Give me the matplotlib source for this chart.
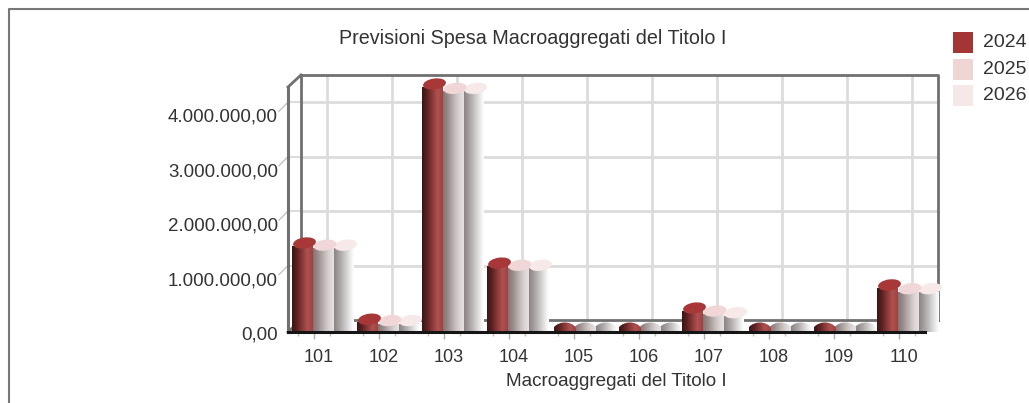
#!/usr/bin/env python3
import numpy as np
import matplotlib
matplotlib.use('Agg')
import matplotlib.pyplot as plt
from matplotlib.colors import LinearSegmentedColormap
from matplotlib.patches import Ellipse, Rectangle
from matplotlib.transforms import IdentityTransform, offset_copy

categories = ['101', '102', '103', '104', '105', '106', '107', '108', '109', '110']
years = ['2024', '2025', '2026']
values_2024 = [1580000, 180000, 4500000, 1210000, 60000, 60000, 385000, 60000, 60000, 810000]
values_2025 = [1540000, 155000, 4420000, 1170000, 40000, 40000, 330000, 40000, 40000, 740000]
values_2026 = [1540000, 155000, 4420000, 1170000, 40000, 40000, 300000, 40000, 40000, 740000]
y_ticks = [0, 1000000, 2000000, 3000000, 4000000]
y_labels = ['0,00', '1.000.000,00', '2.000.000,00', '3.000.000,00', '4.000.000,00']

W, H = 1029, 403
plt.rcParams['font.family'] = ['Liberation Sans', 'DejaVu Sans']

fig = plt.figure(figsize=(W / 100, H / 100), dpi=100)
ax = fig.add_axes([288 / W, 1 - 332 / H, (925 - 288) / W, (332 - 87) / H])
ax.set_xlim(-0.4, 9.4)
ax.set_ylim(0, 4500000)
ax.patch.set_visible(False)
for s in ax.spines.values():
    s.set_visible(False)

back = offset_copy(ax.transData, fig, x=13, y=12, units='dots')
xl, xr = ax.get_xlim()
yb, yt = ax.get_ylim()

# back wall grid
for v in y_ticks[1:]:
    ax.plot([xl, xr], [v, v], color='#dcdcdc', lw=2, transform=back, zorder=1, clip_on=False)
for i in range(len(categories)):
    ax.plot([i, i], [yb, yt], color='#dcdcdc', lw=2, transform=back, zorder=1, clip_on=False)

# frame of the box
frame = '#707070'
ax.plot([xl, xr, xr], [yt, yt, yb], color=frame, lw=2, transform=back, zorder=2, clip_on=False)
ax.plot([xl, xl, xr], [yt, yb, yb], color=frame, lw=2, transform=back, zorder=2, clip_on=False)
ax.plot([xl, xl], [yb, yt], color=frame, lw=2.2, zorder=2, clip_on=False)
for a, b in [(xl, yt), (xr, yb), (xl, yb)]:
    p0 = ax.transData.transform((a, b))
    ax.plot([p0[0], p0[0] + 13], [p0[1], p0[1] + 12], color=frame, lw=2,
            transform=IdentityTransform(), zorder=2, clip_on=False)

# side wall lines and the slanted marks next to the labels
for v in y_ticks[1:]:
    p0 = ax.transData.transform((xl, v))
    ax.plot([p0[0], p0[0] + 13], [p0[1] + 12, p0[1] + 12], color='#dcdcdc', lw=1.5,
            transform=IdentityTransform(), zorder=1, clip_on=False)
    ax.plot([p0[0] - 9, p0[0]], [p0[1] + 3, p0[1] + 12], color='#c4c4c4', lw=1,
            transform=IdentityTransform(), zorder=1, clip_on=False)

ax.plot([xl, xr], [0, 0], color='#151515', lw=2.2, zorder=8, clip_on=False)

# cylinders
cmaps = [
    LinearSegmentedColormap.from_list('c24', ['#3c1414', '#5e2222', '#8c3a3a', '#b05252', '#a04040']),
    LinearSegmentedColormap.from_list('c25', ['#857474', '#9c8e8e', '#bcb1b1', '#d8d0d0', '#e8e2e2']),
    LinearSegmentedColormap.from_list('c26', ['#888080', '#a19b9b', '#c0bcbc', '#e2e0e0', '#ffffff']),
]
cap_colors = ['#a83838', '#f0d6d6', '#f8e9e9']
legend_colors = ['#a33535', '#f0d5d5', '#f7e8e8']
series = [values_2024, values_2025, values_2026]
bar_w = 20.5 / 65
grad = np.linspace(0, 1, 64).reshape(1, -1)
px_y = (yt - yb) / 245

for k in [2, 1, 0]:
    for i, v in enumerate(series[k]):
        left = i + 9 / 65 + (k - 1) * bar_w - bar_w / 2
        c = ax.transData.transform((left + bar_w / 2, v))
        z = 4 + (2 - k) * 0.2
        if v < 100000:
            # flat bars only show as a low mound
            base = ax.transData.transform((left + bar_w / 2, 0))
            mound = Ellipse((base[0] + 2, base[1]), 25, 19, angle=4, transform=IdentityTransform())
            im = ax.imshow(grad, cmap=cmaps[k], extent=[left + 0.02, left + bar_w + 0.04, 0, 11 * px_y],
                           aspect='auto', zorder=z, interpolation='bilinear')
            im.set_clip_path(mound)
            continue
        rect = Rectangle((left, 0), bar_w, v, transform=ax.transData)
        im = ax.imshow(grad, cmap=cmaps[k], extent=[left, left + bar_w, 0, v], aspect='auto',
                       zorder=z, interpolation='bilinear')
        im.set_clip_path(rect)
        ax.add_patch(Ellipse((c[0] + 2, c[1] + 3), 23, 11, angle=8, facecolor=cap_colors[k],
                             edgecolor='none', transform=IdentityTransform(),
                             zorder=z + 0.1, clip_on=False))

ax.set_xticks(range(len(categories)))
ax.set_xticklabels([])
ax.tick_params(axis='x', length=5, width=1, color='#b0b0b0')
ax.set_xticks(np.arange(-0.25, 9.3, 0.5), minor=True)
ax.tick_params(axis='x', which='minor', length=3, width=1, color='#c0c0c0')
ax.set_yticks([])

txt = '#333333'
for i, c in enumerate(categories):
    p = ax.transData.transform((i, 0))
    fig.text((p[0] + 5) / W, 1 - 357 / H, c, fontsize=13, color=txt, ha='center', va='center')
for v, lab in zip(y_ticks, y_labels):
    p = ax.transData.transform((xl, v))
    fig.text(278 / W, (p[1] - 3) / H, lab, fontsize=13.5, color=txt, ha='right', va='center')

fig.text(532.5 / W, 1 - 39 / H, 'Previsioni Spesa Macroaggregati del Titolo I', fontsize=14.2,
         color=txt, ha='center', va='center')
fig.text(616 / W, 1 - 382 / H, 'Macroaggregati del Titolo I', fontsize=13.6,
         color=txt, ha='center', va='center')

# legend
for y0, col, yr in zip([32, 59, 85], legend_colors, years):
    fig.patches.append(Rectangle((953 / W, 1 - (y0 + 21) / H), 20 / W, 21 / H, facecolor=col,
                                 edgecolor='none', transform=fig.transFigure))
    fig.text(983 / W, 1 - (y0 + 10.5) / H, yr, fontsize=14, color=txt, ha='left', va='center')

# outer border of the panel
fig.add_artist(plt.Line2D([9 / W, 9 / W, 1], [0, 1 - 9 / H, 1 - 9 / H], color='#777777', lw=1.5))

fig.savefig('out.png', dpi=100)
